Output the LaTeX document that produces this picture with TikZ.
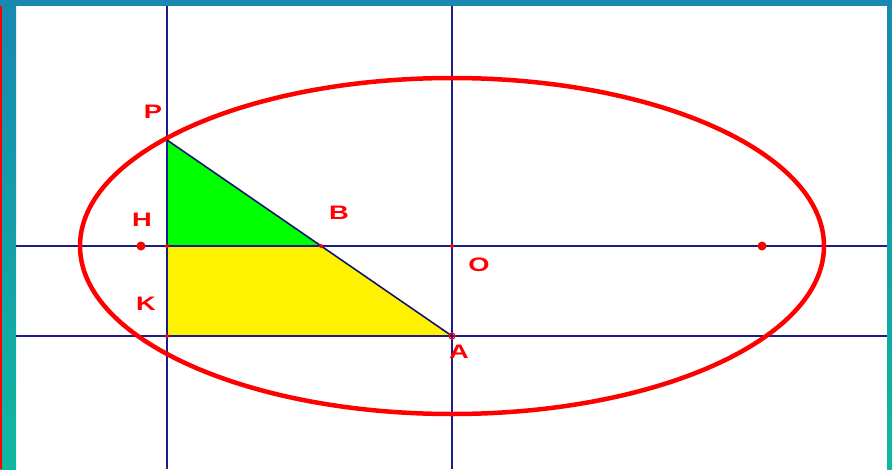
\documentclass[tikz,border=0pt]{standalone}
\usepackage{fontspec}
\setmainfont{Liberation Sans}
\usetikzlibrary{positioning}
\definecolor{navy}{HTML}{1C1C8C}
\definecolor{framea}{HTML}{1888B0}
\definecolor{frameb}{HTML}{10B8A0}
\definecolor{ellred}{HTML}{FF0000}

\begin{document}
\begin{tikzpicture}[x=1pt,y=-1pt,
  axis/.style={navy,line width=1.5pt},
  lbl/.style={text=ellred,font=\bfseries\fontsize{19.5}{20}\selectfont,inner sep=0pt,xscale=1.4,transform shape},
  bigdot/.style={circle,fill=ellred,inner sep=0pt,minimum size=9pt},
  tick/.style={circle,fill=ellred,inner sep=0pt,minimum size=4pt}]
\useasboundingbox (0,0) rectangle (892,469);
\fill[white] (0,0) rectangle (892,469);
% frame
\shade[top color=framea,bottom color=frameb] (0,0) rectangle (16,469);
\fill[ellred] (0,0) rectangle (2,469);
\shade[top color=framea,bottom color=frameb] (887,0) rectangle (892,469);
\fill[framea] (0,0) rectangle (892,6);
% points
\coordinate (O) at (452,246);
\coordinate (P) at (167,140);
\coordinate (A) at (452,336);
\coordinate (B) at (321,246);
\coordinate (H) at (167,246);
\coordinate (K) at (167,336);
% triangles
\fill[green] (P) -- (H) -- (B) -- cycle;
\fill[yellow] (H) -- (B) -- (A) -- (K) -- cycle;
% lines
\draw[axis] (16,246) -- (887,246);
\draw[axis] (16,336) -- (887,336);
\draw[axis] (167,6) -- (167,469);
\draw[axis] (452,6) -- (452,469);
\draw[ellred,line width=4.5pt] (O) ellipse [x radius=372,y radius=168];
\draw[navy!80!black,line width=1.6pt] (P) -- (A);
% dots
\node[bigdot] (F1) at (141,246) {};
\node[bigdot] (F2) at (762,246) {};
\node[tick] at (H) {};
\node[tick] at (O) {};
\node[tick] at (K) {};
\node[tick] at (B) {};
\draw[ellred,line width=1.2pt] (A) circle (3);
% labels
\node[lbl] (lP) at (153,112) {P};
\node[lbl] (lH) at (142,220) {H};
\node[lbl] (lB) at (339,213) {B};
\node[lbl] (lO) at (479,265) {O};
\node[lbl] (lK) at (146,304) {K};
\node[lbl] (lA) at (459,352) {A};
\end{tikzpicture}
\end{document}
